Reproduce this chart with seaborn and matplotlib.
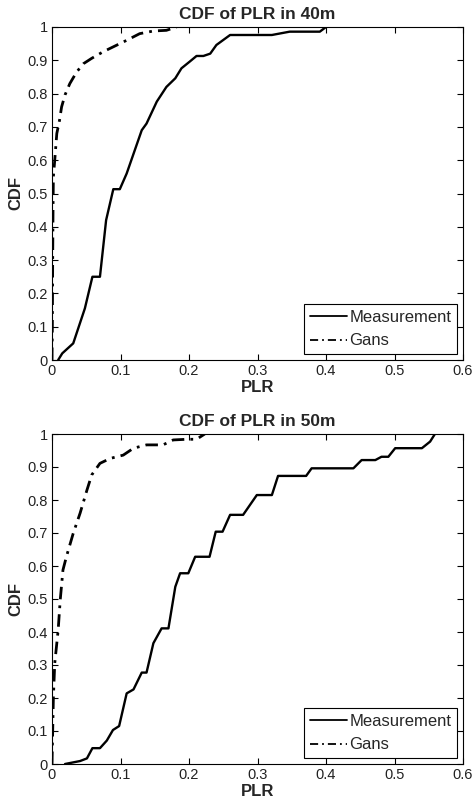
import matplotlib
matplotlib.use("Agg")
import matplotlib.pyplot as plt
import seaborn as sns
import pandas as pd
from matplotlib.ticker import FuncFormatter

# ---- data ----
meas40_x = [0.009, 0.015, 0.031, 0.048, 0.059, 0.070, 0.079, 0.0895, 0.099, 0.109, 0.131, 0.138,
            0.153, 0.167, 0.180, 0.189, 0.201, 0.211, 0.221, 0.231, 0.240, 0.250, 0.260, 0.321,
            0.347, 0.391, 0.400]
meas40_y = [0.0, 0.02, 0.05, 0.155, 0.25, 0.25, 0.42, 0.513, 0.513, 0.56, 0.69, 0.71,
            0.776, 0.82, 0.846, 0.876, 0.896, 0.913, 0.913, 0.92, 0.946, 0.961, 0.976, 0.976,
            0.986, 0.986, 1.0]
gans40_x = [0.0, 0.0005, 0.001, 0.0015, 0.002, 0.004, 0.007, 0.011, 0.014, 0.019, 0.026, 0.036,
            0.046, 0.058, 0.075, 0.099, 0.109, 0.128, 0.148, 0.167, 0.182]
gans40_y = [0.0, 0.1, 0.3, 0.45, 0.55, 0.6, 0.68, 0.72, 0.76, 0.796, 0.83, 0.865,
            0.89, 0.906, 0.926, 0.95, 0.96, 0.98, 0.988, 0.99, 1.0]

meas50_x = [0.019, 0.041, 0.051, 0.059, 0.070, 0.080, 0.089, 0.098, 0.109, 0.119, 0.131, 0.138,
            0.148, 0.160, 0.170, 0.180, 0.187, 0.199, 0.209, 0.230, 0.239, 0.249, 0.260, 0.279,
            0.299, 0.321, 0.330, 0.371, 0.379, 0.440, 0.452, 0.472, 0.481, 0.491, 0.501, 0.540,
            0.552, 0.559]
meas50_y = [0.0, 0.009, 0.017, 0.048, 0.048, 0.071, 0.103, 0.115, 0.214, 0.226, 0.277, 0.277,
            0.366, 0.411, 0.411, 0.537, 0.578, 0.578, 0.628, 0.628, 0.704, 0.704, 0.755, 0.755,
            0.815, 0.815, 0.873, 0.873, 0.896, 0.896, 0.921, 0.921, 0.931, 0.931, 0.957, 0.957,
            0.977, 1.0]
gans50_x = [0.0, 0.001, 0.002, 0.004, 0.009, 0.012, 0.016, 0.021, 0.031, 0.041, 0.051, 0.058,
            0.070, 0.085, 0.104, 0.119, 0.138, 0.162, 0.177, 0.197, 0.211, 0.223]
gans50_y = [0.0, 0.1, 0.2, 0.305, 0.406, 0.497, 0.588, 0.628, 0.699, 0.76, 0.83, 0.876,
            0.911, 0.926, 0.936, 0.957, 0.967, 0.967, 0.982, 0.984, 0.984, 1.0]

titles = ["CDF of PLR in 40m", "CDF of PLR in 50m"]
series_names = ["Measurement", "Gans"]
x_ticks = [0, 0.1, 0.2, 0.3, 0.4, 0.5, 0.6]
y_ticks = [0, 0.1, 0.2, 0.3, 0.4, 0.5, 0.6, 0.7, 0.8, 0.9, 1.0]

sns.set_theme(style="white")
plt.rcParams['font.family'] = ['Liberation Sans', 'DejaVu Sans']

fig = plt.figure(figsize=(4.72, 8.01), dpi=100)
axes = [fig.add_axes([52/472, 1-360/801, 411/472, 333/801]),
        fig.add_axes([52/472, 1-764/801, 411/472, 330/801])]

panels = [(meas40_x, meas40_y, gans40_x, gans40_y),
          (meas50_x, meas50_y, gans50_x, gans50_y)]

fmt = FuncFormatter(lambda v, p: "%g" % round(v, 3))

for ax, (mx, my, gx, gy), title in zip(axes, panels, titles):
    dfm = pd.DataFrame({"PLR": mx, "CDF": my})
    dfg = pd.DataFrame({"PLR": gx, "CDF": gy})
    sns.lineplot(data=dfm, x="PLR", y="CDF", ax=ax, estimator=None, sort=False,
                 color="black", linewidth=1.7, label=series_names[0])
    sns.lineplot(data=dfg, x="PLR", y="CDF", ax=ax, estimator=None, sort=False,
                 color="black", linewidth=2.0, label=series_names[1],
                 dashes=False)
    ax.lines[-1].set_dashes([4.5, 2.2, 1.0, 2.2])
    ax.set_xlim(0, 0.6)
    ax.set_ylim(0, 1)
    ax.set_xticks(x_ticks)
    ax.set_yticks(y_ticks)
    ax.xaxis.set_major_formatter(fmt)
    ax.yaxis.set_major_formatter(fmt)
    ax.tick_params(direction="in", length=4, width=0.8, top=True, right=True,
                   bottom=True, left=True, labelsize=10.5, colors="black", pad=3,
                   labelcolor="#222222")
    for s in ax.spines.values():
        s.set_color("black")
        s.set_linewidth(0.8)
        s.set_visible(True)
    ax.set_title(title, fontsize=12.5, fontweight="bold", pad=6)
    ax.set_xlabel("PLR", fontsize=12, fontweight="bold", labelpad=1)
    ax.set_ylabel("CDF", fontsize=12, fontweight="bold", labelpad=3)
    leg = ax.legend(loc="lower right", fontsize=12, frameon=True, fancybox=False,
                    edgecolor="black", framealpha=1, borderpad=0.35, handlelength=2.2,
                    handletextpad=0.15, labelspacing=0.5, borderaxespad=0.35)
    leg.get_frame().set_linewidth(0.8)
    for h in leg.get_lines():
        h.set_linewidth(1.3)
    ax.set_facecolor("white")

fig.savefig("out.png", dpi=100, facecolor="white")
